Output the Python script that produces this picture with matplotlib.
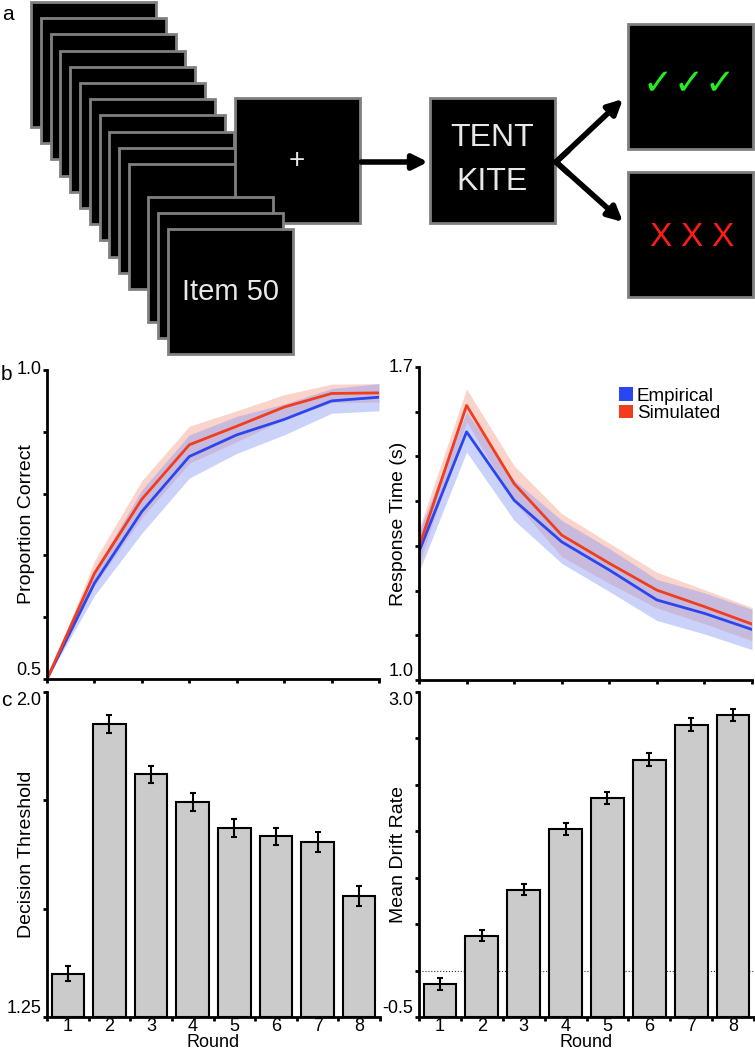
import matplotlib
matplotlib.use('Agg')
import matplotlib.pyplot as plt
import numpy as np
from matplotlib.patches import Rectangle, FancyArrowPatch, Patch

plt.rcParams['font.family'] = ['Liberation Sans', 'DejaVu Sans']

# ---- data ----
rounds = np.arange(1, 9)

acc_emp = [0.50, 0.655, 0.771, 0.860, 0.895, 0.920, 0.950, 0.956]
acc_sim = [0.50, 0.671, 0.791, 0.879, 0.909, 0.940, 0.962, 0.963]
acc_emp_err = [0.0, 0.02, 0.035, 0.035, 0.03, 0.025, 0.02, 0.022]
acc_sim_err = [0.0, 0.02, 0.03, 0.03, 0.025, 0.02, 0.015, 0.015]

rt_emp = [1.287, 1.555, 1.402, 1.309, 1.246, 1.179, 1.149, 1.113]
rt_sim = [1.298, 1.614, 1.439, 1.324, 1.261, 1.201, 1.164, 1.125]
rt_emp_err = [0.045, 0.045, 0.045, 0.048, 0.048, 0.046, 0.046, 0.045]
rt_sim_err = [0.04, 0.037, 0.04, 0.048, 0.045, 0.04, 0.038, 0.037]

threshold = [1.35, 1.926, 1.81, 1.746, 1.686, 1.667, 1.654, 1.529]
threshold_err = [0.018, 0.02, 0.02, 0.021, 0.021, 0.02, 0.023, 0.023]

drift = [-0.145, 0.374, 0.872, 1.521, 1.861, 2.273, 2.646, 2.753]
drift_err = [0.06, 0.06, 0.06, 0.065, 0.063, 0.066, 0.07, 0.065]

BLUE = '#2a46f0'
RED = '#f23c1e'
BLUE_BAND = '#8c9cf4'
RED_BAND = '#f7a898'
BAR = '#cbcbcb'
TICK_FS = 13
LABEL_FS = 14

fig = plt.figure(figsize=(7.55, 10.5), dpi=100)

# ---- panel a: task schematic (pixel coordinates) ----
ax0 = fig.add_axes([0, 0, 1, 1], zorder=0)
ax0.set_xlim(0, 755)
ax0.set_ylim(1050, 0)
ax0.axis('off')

CARD = 125
EDGE = '#808080'

def card(x, y, z):
    ax0.add_patch(Rectangle((x, y), CARD, CARD, facecolor='black',
                            edgecolor=EDGE, linewidth=2, zorder=z))

z = 1
for i in range(11):
    card(31 + 9.8 * i, 2 + 16.2 * i, z); z += 1
card(235, 98, z); z += 1
ax0.text(297, 161, '+', color='#e8e8e8', fontsize=20, ha='center', va='center', zorder=z)
for (cx, cy) in [(148, 197), (158, 213), (168, 229)]:
    z += 1
    card(cx, cy, z)
ax0.text(231, 292, 'Item 50', color='#e8e8e8', fontsize=21, ha='center', va='center', zorder=z + 1)

card(430, 98, 30)
ax0.text(492, 138, 'TENT', color='#e8e8e8', fontsize=23, ha='center', va='center', zorder=31)
ax0.text(492, 182, 'KITE', color='#e8e8e8', fontsize=23, ha='center', va='center', zorder=31)

card(628, 24, 30)
for xx in [658, 689, 720]:
    ax0.text(xx, 84, '\u2713', color='#22ee22', fontsize=26, ha='center', va='center',
             family='DejaVu Sans', zorder=31)
card(628, 172, 30)
for xx in [660, 691, 722]:
    ax0.text(xx, 237, 'X', color='#ff1a1a', fontsize=24, ha='center', va='center', zorder=31)

for (p0, p1) in [((361, 162), (428, 162)), ((556, 162), (623, 99)), ((556, 162), (623, 222))]:
    ax0.add_patch(FancyArrowPatch(p0, p1, arrowstyle='-|>', mutation_scale=22,
                                  color='black', linewidth=4, shrinkA=0, shrinkB=0, zorder=32))
ax0.plot([556, 568], [162, 151], color='black', lw=4, solid_capstyle='round', zorder=32)
ax0.plot([556, 568], [162, 173], color='black', lw=4, solid_capstyle='round', zorder=32)

ax0.text(2, 14, 'a', fontsize=15, va='center', ha='left')
ax0.text(1, 375, 'b', fontsize=15, va='center', ha='left')
ax0.text(1, 700, 'c', fontsize=15, va='center', ha='left')


def style(ax):
    for s in ['top', 'right']:
        ax.spines[s].set_visible(False)
    for s in ['left', 'bottom']:
        ax.spines[s].set_linewidth(2)
    ax.tick_params(direction='out', length=3, width=2, labelsize=TICK_FS, pad=1)
    ax.patch.set_alpha(0)


def fig_rect(x0, y0, x1, y1):
    return [x0 / 755, 1 - y1 / 1050, (x1 - x0) / 755, (y1 - y0) / 1050]


def end_labels(ax, ticks, lo, hi, top_va='top'):
    # only the two ends are labelled
    ax.set_yticks(ticks)
    ax.set_yticklabels([lo] + [''] * (len(ticks) - 2) + [hi])
    labs = ax.get_yticklabels()
    labs[0].set_va('bottom')
    labs[-1].set_va(top_va)


def place_ylabel(ax, text, px_left=12):
    ax.set_ylabel(text, fontsize=LABEL_FS)
    w = ax.get_position().width * 755
    ax.yaxis.set_label_coords(-px_left / w, 0.5)

# ---- panel b ----
axb1 = fig.add_axes(fig_rect(47, 370, 379, 679), zorder=2)
axb1.fill_between(rounds, np.array(acc_sim) - acc_sim_err, np.array(acc_sim) + acc_sim_err,
                  color=RED_BAND, alpha=0.5, lw=0)
axb1.fill_between(rounds, np.array(acc_emp) - acc_emp_err, np.array(acc_emp) + acc_emp_err,
                  color=BLUE_BAND, alpha=0.45, lw=0)
axb1.plot(rounds, acc_emp, color=BLUE, lw=2)
axb1.plot(rounds, acc_sim, color=RED, lw=2)
axb1.set_xlim(1, 8)
axb1.set_ylim(0.5, 1.0)
axb1.set_xticks(rounds)
axb1.set_xticklabels([])
end_labels(axb1, np.linspace(0.5, 1.0, 6), '0.5', '1.0', top_va='center')
place_ylabel(axb1, 'Proportion Correct')
style(axb1)

axb2 = fig.add_axes(fig_rect(419, 367, 752, 680), zorder=2)
axb2.fill_between(rounds, np.array(rt_sim) - rt_sim_err, np.array(rt_sim) + rt_sim_err,
                  color=RED_BAND, alpha=0.5, lw=0)
axb2.fill_between(rounds, np.array(rt_emp) - rt_emp_err, np.array(rt_emp) + rt_emp_err,
                  color=BLUE_BAND, alpha=0.45, lw=0)
axb2.plot(rounds, rt_emp, color=BLUE, lw=2)
axb2.plot(rounds, rt_sim, color=RED, lw=2)
axb2.set_xlim(1, 8)
axb2.set_ylim(1.0, 1.7)
axb2.set_xticks(rounds)
axb2.set_xticklabels([])
end_labels(axb2, np.linspace(1.0, 1.7, 8), '1.0', '1.7', top_va='center')
place_ylabel(axb2, 'Response Time (s)')
style(axb2)
handles = [Patch(facecolor=BLUE, edgecolor='none', label='Empirical'),
           Patch(facecolor=RED, edgecolor='none', label='Simulated')]
axb2.legend(handles=handles, loc='upper left', bbox_to_anchor=(0.6, 0.935), frameon=False,
            fontsize=13.5, handlelength=0.75, handleheight=0.75, handletextpad=0.2,
            labelspacing=0.0, borderpad=0, borderaxespad=0)

# ---- panel c ----
def bar_panel(rect, vals, errs, ylim, yticks, lo, hi, ylabel):
    ax = fig.add_axes(rect, zorder=2)
    ax.bar(rounds, np.array(vals) - ylim[0], bottom=ylim[0], width=0.78, color=BAR,
           edgecolor='black', linewidth=1.5)
    ax.errorbar(rounds, vals, yerr=errs, fmt='none', ecolor='black', elinewidth=1.5,
                capsize=2.5, capthick=1.5)
    ax.set_xlim(0.5, 8.5)
    ax.set_ylim(*ylim)
    ax.set_xticks(rounds)
    ax.set_xticklabels([str(r) for r in rounds])
    ax.set_xticks(np.arange(0.5, 8.6, 1), minor=True)
    end_labels(ax, yticks, lo, hi)
    place_ylabel(ax, ylabel)
    ax.set_xlabel('Round', fontsize=13, labelpad=-1)
    style(ax)
    ax.tick_params(axis='x', which='major', length=0, pad=1)
    ax.tick_params(axis='x', which='minor', length=3, width=2, direction='out')
    return ax

axc1 = bar_panel(fig_rect(47, 692, 380, 1017), threshold, threshold_err, (1.25, 2.0),
                 np.linspace(1.25, 2.0, 4), '1.25', '2.0', 'Decision Threshold')
axc2 = bar_panel(fig_rect(419, 692, 754, 1017), drift, drift_err, (-0.5, 3.0),
                 np.linspace(-0.5, 3.0, 8), '-0.5', '3.0', 'Mean Drift Rate')
axc2.axhline(0, color='#333333', lw=0.8, ls=':', zorder=0)

fig.savefig('out.png', dpi=100)
